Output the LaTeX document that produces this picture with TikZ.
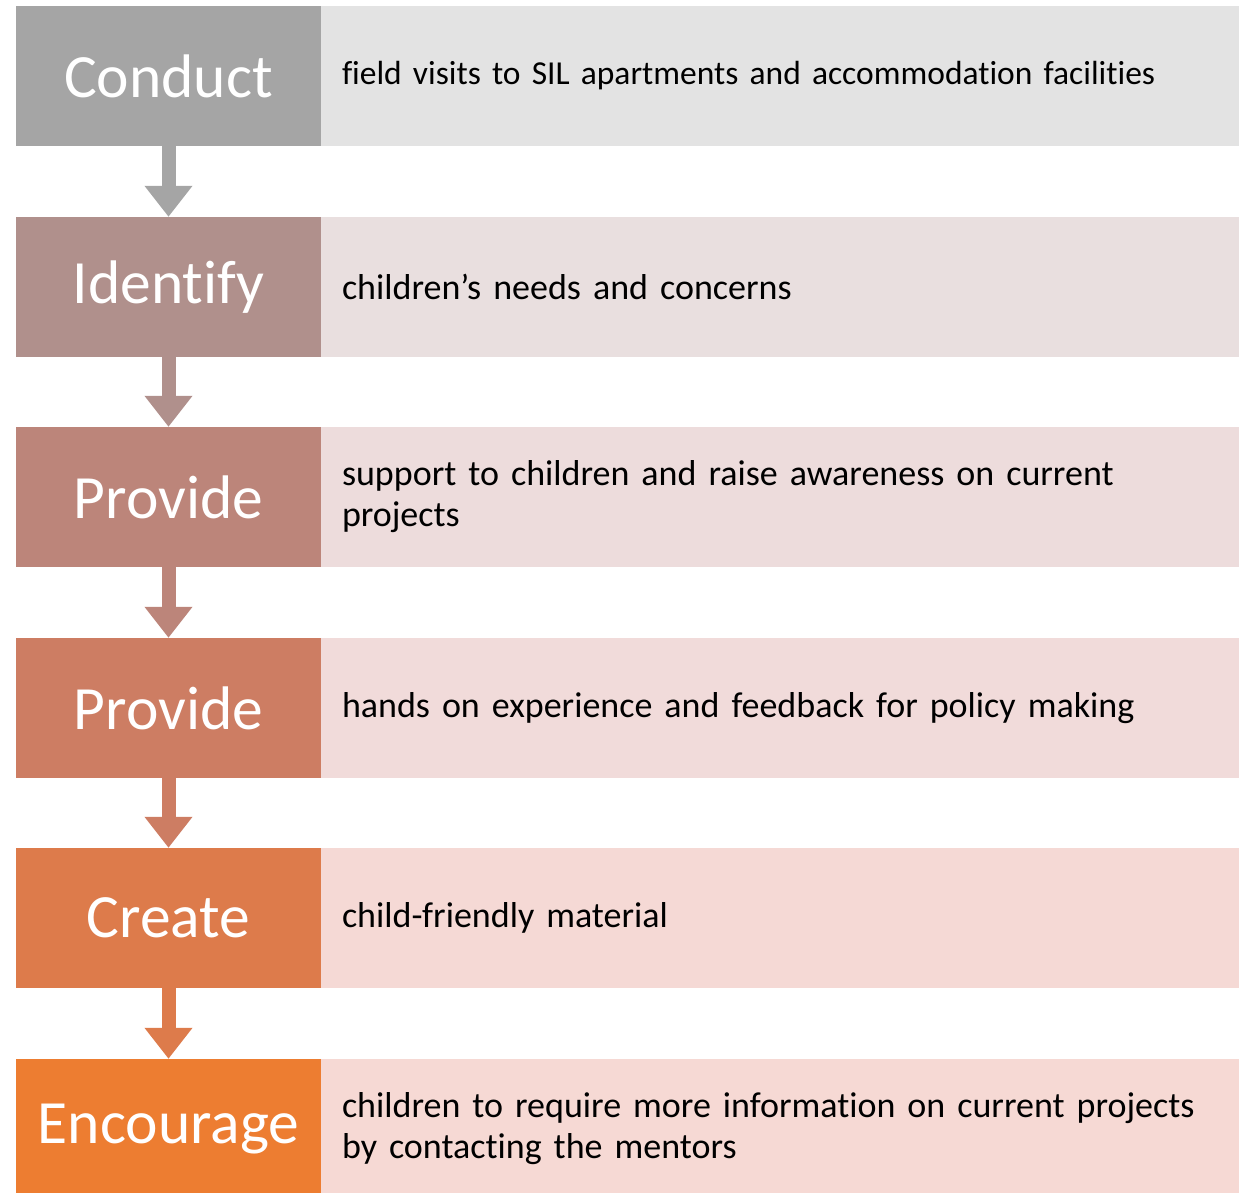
\documentclass[tikz,border=0pt]{standalone}
\usepackage{fontspec}
\setmainfont[Ligatures={NoCommon}]{Carlito}
\usetikzlibrary{arrows.meta}
\definecolor{cA}{HTML}{A5A5A5}\definecolor{lA}{HTML}{E3E3E3}
\definecolor{cB}{HTML}{B0908C}\definecolor{lB}{HTML}{E9DFDF}
\definecolor{cC}{HTML}{BC857A}\definecolor{lC}{HTML}{EDDCDC}
\definecolor{cD}{HTML}{CD7D63}\definecolor{lD}{HTML}{F1DBDA}
\definecolor{cE}{HTML}{DD7B4B}\definecolor{lE}{HTML}{F5D9D5}
\definecolor{cF}{HTML}{ED7D31}\definecolor{lF}{HTML}{F6D9D4}
\tikzset{
  x=1pt, y=-1pt,
  verb/.style={fill=#1, text=white, minimum width=305pt, minimum height=140pt, inner sep=0pt,
    font=\fontsize{61.5}{72}\selectfont},
  desc/.style={fill=#1, minimum width=918pt, minimum height=140pt, inner xsep=21pt, inner ysep=0pt,
    text width=876pt, align=left, font=\fontsize{36}{41}\selectfont},
  small/.style={font=\fontsize{33.5}{40}\selectfont},
  flow/.style={draw=#1, line width=14pt, -{Triangle[width=46pt,length=31pt]}, shorten <=-0.5pt}
}
\begin{document}
\begin{tikzpicture}
\useasboundingbox (0,0) rectangle (1250,1193);
\clip (0,0) rectangle (1250,1193);
\node[verb=cA] (v1) at (168.5,76) {Conduct};
\node[desc=lA, small] (d1) at (780,76) {field visits to SIL apartments and accommodation facilities};
\node[verb=cB] (v2) at (168.5,287) {Identify};
\node[desc=lB] (d2) at (780,287) {children’s needs and concerns};
\node[verb=cC] (v3) at (168.5,497) {Provide};
\node[desc=lC] (d3) at (780,497) {support to children and raise awareness on current\\projects};
\node[verb=cD] (v4) at (168.5,708) {Provide};
\node[desc=lD] (d4) at (780,708) {hands on experience and feedback for policy making};
\node[verb=cE] (v5) at (168.5,918) {Create};
\node[desc=lE] (d5) at (780,918) {child-friendly material};
\node[verb=cF] (v6) at (168.5,1129) {Encourage};
\node[desc=lF] (d6) at (780,1129) {children to require more information on current projects\\by contacting the mentors};
\draw[flow=cA] (v1.south) -- (v2.north);
\draw[flow=cB] (v2.south) -- (v3.north);
\draw[flow=cC] (v3.south) -- (v4.north);
\draw[flow=cD] (v4.south) -- (v5.north);
\draw[flow=cE] (v5.south) -- (v6.north);
\end{tikzpicture}
\end{document}
